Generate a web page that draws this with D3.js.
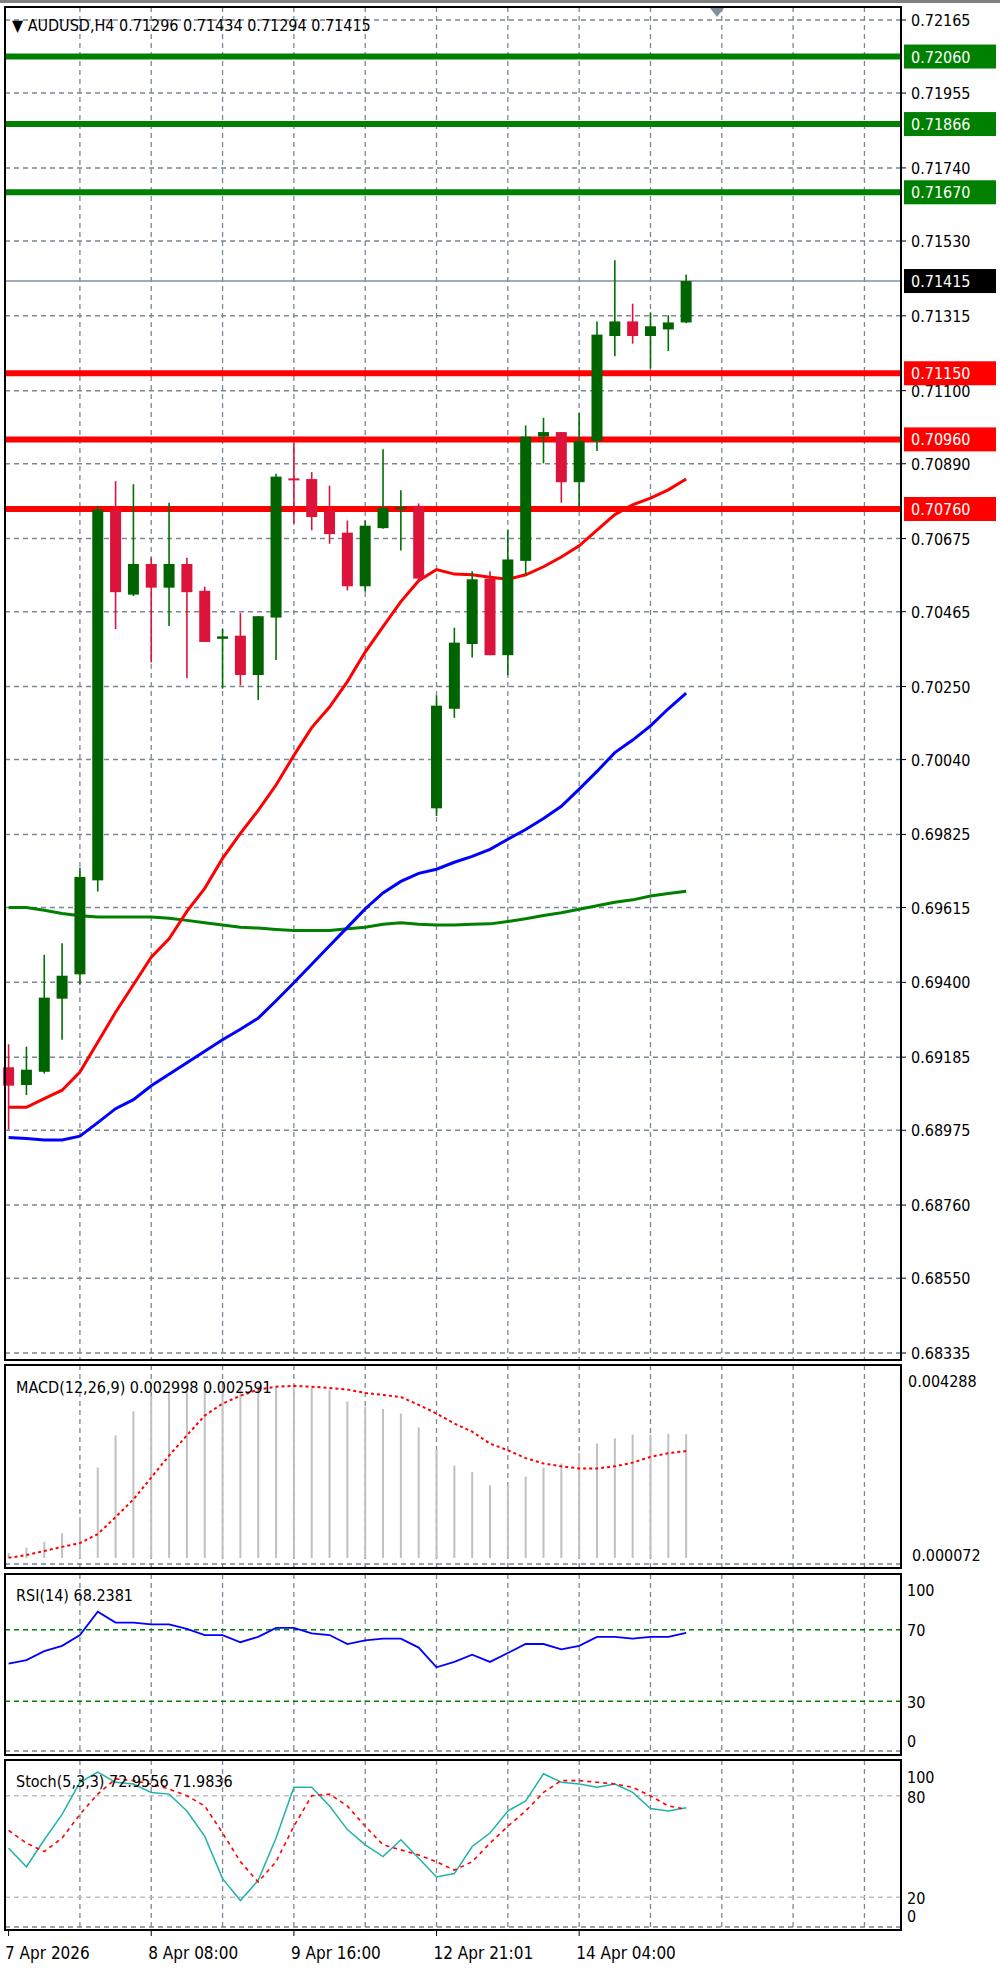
<!DOCTYPE html>
<html><head><meta charset="utf-8">
<script src="https://cdn.jsdelivr.net/npm/d3@7"></script>
<style>body{margin:0;background:#fff}svg{display:block}text{font-family:"DejaVu Sans Condensed","Liberation Sans",Arial,sans-serif}</style>
</head><body>
<svg width="1000" height="1973"></svg>
<script>
// candles, oldest first
var open  = [0.69156,0.69105,0.69143,0.69353,0.69423,0.69693,0.70758,0.70514,0.70602,0.70534,0.70602,0.70525,0.70387,0.70396,0.70283,0.70448,
             0.70848,0.70846,0.70756,0.70692,0.70538,0.70705,0.70760,0.70769,0.69900,0.70186,0.70372,0.70560,0.70340,0.70611,0.70968,0.70981,
             0.70837,0.70955,0.71257,0.71299,0.71257,0.71276,0.71296];
var high  = [0.69222,0.69215,0.69479,0.69512,0.69729,0.70769,0.70840,0.70831,0.70620,0.70778,0.70620,0.70537,0.70415,0.70461,0.70452,0.70861,
             0.70949,0.70866,0.70827,0.70727,0.70727,0.70932,0.70814,0.70776,0.70224,0.70419,0.70581,0.70581,0.70699,0.71000,0.71022,0.70981,
             0.71035,0.71299,0.71475,0.71350,0.71325,0.71317,0.71434];
var low   = [0.68977,0.69076,0.69138,0.69235,0.69393,0.69661,0.70415,0.70510,0.70319,0.70424,0.70274,0.70378,0.70244,0.70253,0.70211,0.70326,
             0.70718,0.70699,0.70660,0.70526,0.70522,0.70703,0.70641,0.70551,0.69878,0.70160,0.70333,0.70340,0.70282,0.70570,0.70891,0.70778,
             0.70765,0.70927,0.71199,0.71235,0.71164,0.71214,0.71294];
var close = [0.69103,0.69149,0.69356,0.69419,0.69703,0.70758,0.70521,0.70602,0.70534,0.70602,0.70521,0.70378,0.70394,0.70283,0.70452,0.70853,
             0.70843,0.70737,0.70688,0.70538,0.70712,0.70763,0.70765,0.70560,0.70195,0.70376,0.70558,0.70340,0.70615,0.70968,0.70981,0.70837,
             0.70955,0.71261,0.71299,0.71257,0.71285,0.71296,0.71415];
var maRed   = [0.69041,0.69041,0.69066,0.69090,0.69142,0.69228,0.69314,0.69393,0.69472,0.69525,0.69604,0.69670,0.69756,0.69828,0.69894,0.69967,
               0.70052,0.70132,0.70191,0.70264,0.70349,0.70422,0.70494,0.70554,0.70586,0.70573,0.70571,0.70564,0.70558,0.70571,0.70594,0.70622,
               0.70654,0.70699,0.70744,0.70772,0.70791,0.70815,0.70846];
var maBlue  = [0.68954,0.68951,0.68947,0.68947,0.68958,0.68997,0.69037,0.69063,0.69103,0.69136,0.69169,0.69202,0.69235,0.69265,0.69297,0.69347,
               0.69399,0.69452,0.69505,0.69558,0.69611,0.69657,0.69690,0.69713,0.69725,0.69745,0.69762,0.69782,0.69811,0.69839,0.69871,0.69906,
               0.69955,0.70006,0.70060,0.70096,0.70137,0.70186,0.70231];
var maGreen = [0.69615,0.69615,0.69607,0.69598,0.69591,0.69588,0.69588,0.69588,0.69588,0.69584,0.69578,0.69571,0.69565,0.69558,0.69556,0.69552,
               0.69549,0.69549,0.69549,0.69554,0.69558,0.69567,0.69571,0.69567,0.69565,0.69565,0.69567,0.69568,0.69575,0.69583,0.69592,0.69600,
               0.69610,0.69620,0.69630,0.69637,0.69648,0.69655,0.69662];
var macdHist = [0.00012,0.00025,0.00039,0.00060,0.00099,0.00219,0.00297,0.00355,0.00393,0.00408,0.00412,0.00412,0.00412,0.00415,0.00417,0.00417,
                0.00415,0.00412,0.00408,0.00379,0.00366,0.00361,0.00350,0.00316,0.00263,0.00224,0.00208,0.00176,0.00176,0.00197,0.00219,0.00229,
                0.00255,0.00277,0.00290,0.00299,0.00299,0.00301,0.002998];
var macdSignal = [0.000004,0.000072,0.00017,0.00027,0.00036,0.00058,0.00099,0.00142,0.00195,0.00248,0.00297,0.00345,0.00374,0.00393,0.00408,0.00415,
                  0.00417,0.00415,0.00412,0.00408,0.00400,0.00395,0.00390,0.00371,0.00350,0.00326,0.00306,0.00277,0.00261,0.00242,0.00229,0.00222,
                  0.00217,0.00217,0.00222,0.00231,0.00245,0.00254,0.002591];
var rsi = [51,53,58,61,67,80,74,74,73,73,70.4,67,67,63,66,71,71,68,67,62,64,65,65,60,49,52,56,52,57,62,62,59,61,66,66,65,66,66,68.2381];
var stochMain = [49,38,54,69,88,94,88,87,82,81,71,56,31,18,30,55,85,85,74,60,51,44,54,43,32,34,50,58,71,77,93,88,87,85,87,82,72.5,71,72.9556];
var stochSignal = [59.5,52,47,55,69,81,90,89,87,84,80,74,58,41,29,41,62,80,81,74,62,51,48,45,41,36,41,52,62,71,82,89,89,88,87,85,80,74,71.9836];
var priceTicks = [0.72165,0.71955,0.71740,0.71530,0.71315,0.71100,0.70890,0.70675,0.70465,0.70250,0.70040,0.69825,0.69615,0.69400,0.69185,0.68975,0.68760,0.68550,0.68335];
var resist = [0.72060,0.71866,0.71670];
var support = [0.71150,0.70960,0.70760];
var lastPrice = 0.71415;
var timeLabels = [{i:0,t:"7 Apr 2026"},{i:8,t:"8 Apr 08:00"},{i:16,t:"9 Apr 16:00"},{i:24,t:"12 Apr 21:01"},{i:32,t:"14 Apr 04:00"}];

var svg = d3.select("svg");
var L = 5, R = 901;
var gridCol = "#7b8794";
var bull = "#006400", bear = "#dc143c";
var fs = 16;
var x = d3.scaleLinear().domain([0,1]).range([8.6, 26.43]);
var y = d3.scaleLinear().domain([0.68335,0.72165]).range([1353,20]);

// panels
var panels = [[7,1360],[1365,1568],[1574,1755],[1760,1930]];
panels.forEach(function(p){
  var g = svg.append("g");
  for (var i = 4; i <= 48; i += 4)
    g.append("line").attr("x1",x(i)).attr("x2",x(i)).attr("y1",p[0]).attr("y2",p[1])
      .attr("stroke",gridCol).attr("stroke-width",1.3).attr("stroke-dasharray","5,4");
});
function hgrid(yy, col, dash){
  svg.append("line").attr("x1",L).attr("x2",R).attr("y1",yy).attr("y2",yy)
    .attr("stroke",col).attr("stroke-width",1.5).attr("stroke-dasharray",dash||"5,4");
}
priceTicks.forEach(function(p){
  hgrid(y(p), gridCol);
  svg.append("line").attr("x1",R).attr("x2",R+5).attr("y1",y(p)).attr("y2",y(p)).attr("stroke","#000");
  svg.append("text").attr("x",911).attr("y",y(p)+6).attr("font-size",fs).text(p.toFixed(5));
});

// MAs
function maLine(data, col){
  svg.append("path").datum(data).attr("fill","none").attr("stroke",col).attr("stroke-width",3)
    .attr("d", d3.line().x(function(d,i){return x(i);}).y(function(d){return y(d);}));
}
maLine(maGreen,"#008000"); maLine(maBlue,"#0000ff"); maLine(maRed,"#ff0000");

// levels
function level(p, col){
  svg.append("line").attr("x1",L).attr("x2",R).attr("y1",y(p)).attr("y2",y(p)).attr("stroke",col).attr("stroke-width",p===lastPrice?1.5:6);
  svg.append("rect").attr("x",904).attr("y",y(p)-12).attr("width",92).attr("height",24).attr("fill",p===lastPrice?"#000":col);
  svg.append("text").attr("x",911).attr("y",y(p)+6).attr("font-size",fs).attr("fill","#fff").text(p.toFixed(5));
}
resist.forEach(function(p){ level(p,"#008000"); });
support.forEach(function(p){ level(p,"#ff0000"); });
level(lastPrice,"#8090a0");

// candles
var cg = svg.append("g");
close.forEach(function(c,i){
  var o = open[i], col = c >= o ? bull : bear;
  cg.append("line").attr("x1",x(i)).attr("x2",x(i)).attr("y1",y(high[i])).attr("y2",y(low[i]))
    .attr("stroke", c >= o ? "#007000" : bear).attr("stroke-width",1.6);
  var top = y(Math.max(o,c)), h = Math.max(2, Math.abs(y(o)-y(c)));
  cg.append("rect").attr("x",x(i)-5.5).attr("y",top).attr("width",11).attr("height",h).attr("fill",col);
});

// title
svg.append("text").attr("x",12).attr("y",31).attr("font-size",fs).text("\u25BC AUDUSD,H4  0.71296 0.71434 0.71294 0.71415");
svg.append("path").attr("d","M710,8 L724,8 L717,17 Z").attr("fill","#8090a0");

// MACD
var ym = d3.scaleLinear().domain([0,0.004288]).range([1558,1381]);
macdHist.forEach(function(v,i){
  svg.append("line").attr("x1",x(i)).attr("x2",x(i)).attr("y1",ym(0)).attr("y2",ym(v)).attr("stroke","#c0c0c0").attr("stroke-width",2);
});
hgrid(1564, gridCol);
svg.append("path").datum(macdSignal).attr("fill","none").attr("stroke","#ff0000").attr("stroke-width",2).attr("stroke-dasharray","3,3")
  .attr("d", d3.line().x(function(d,i){return x(i);}).y(function(d){return ym(d);}));
svg.append("text").attr("x",16).attr("y",1393).attr("font-size",fs).text("MACD(12,26,9) 0.002998 0.002591");
svg.append("text").attr("x",908).attr("y",1387).attr("font-size",fs).text("0.004288");
svg.append("text").attr("x",912).attr("y",1561).attr("font-size",fs).text("0.000072");

// RSI
var yr = d3.scaleLinear().domain([0,100]).range([1755,1576]);
hgrid(yr(70),"#008000"); hgrid(yr(30),"#008000"); hgrid(1751, gridCol);
svg.append("path").datum(rsi).attr("fill","none").attr("stroke","#0000ff").attr("stroke-width",1.8)
  .attr("d", d3.line().x(function(d,i){return x(i);}).y(function(d){return yr(d);}));
svg.append("text").attr("x",16).attr("y",1601).attr("font-size",fs).text("RSI(14) 68.2381");
[[100,1596],[70,1636],[30,1708],[0,1747]].forEach(function(t){
  svg.append("text").attr("x",907).attr("y",t[1]).attr("font-size",fs).text(t[0]);
});

// Stochastic
var ys = d3.scaleLinear().domain([0,100]).range([1931,1762]);
hgrid(ys(80),"#c0c0c0"); hgrid(ys(20),"#c0c0c0"); hgrid(1927, gridCol);
svg.append("path").datum(stochMain).attr("fill","none").attr("stroke","#20b2aa").attr("stroke-width",1.5)
  .attr("d", d3.line().x(function(d,i){return x(i);}).y(function(d){return ys(d);}));
svg.append("path").datum(stochSignal).attr("fill","none").attr("stroke","#ff0000").attr("stroke-width",1.6).attr("stroke-dasharray","4,4")
  .attr("d", d3.line().x(function(d,i){return x(i);}).y(function(d){return ys(d);}));
svg.append("text").attr("x",16).attr("y",1787).attr("font-size",fs).text("Stoch(5,3,3) 72.9556 71.9836");
[[100,1783],[80,1803],[20,1904],[0,1922]].forEach(function(t){
  svg.append("text").attr("x",907).attr("y",t[1]).attr("font-size",fs).text(t[0]);
});

// frames
panels.forEach(function(p){
  svg.append("rect").attr("x",L).attr("y",p[0]).attr("width",R-L).attr("height",p[1]-p[0])
    .attr("fill","none").attr("stroke","#000").attr("stroke-width",2);
});
svg.append("rect").attr("x",0).attr("y",0).attr("width",1000).attr("height",3).attr("fill","#808080");

// time axis
timeLabels.forEach(function(d){
  svg.append("line").attr("x1",x(d.i)).attr("x2",x(d.i)).attr("y1",1930).attr("y2",1936).attr("stroke","#000");
  svg.append("text").attr("x",d.i===0?5:x(d.i)-3).attr("y",1959).attr("font-size",17).text(d.t);
});
</script>
</body></html>
